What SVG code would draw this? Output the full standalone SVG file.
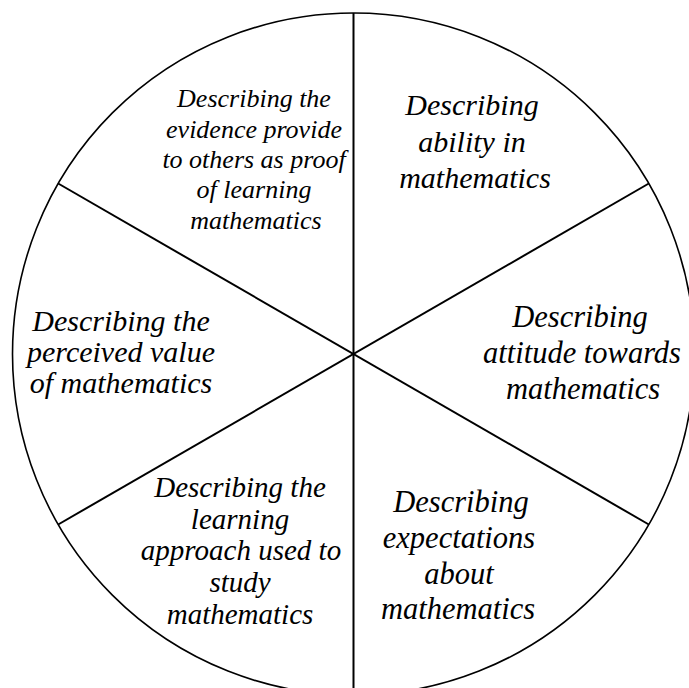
<svg xmlns="http://www.w3.org/2000/svg" width="689" height="688" viewBox="0 0 689 688">
  <style>
    .rim { fill: #fff; stroke: #000; stroke-width: 1.6; }
    .spoke { stroke: #000; stroke-width: 2; fill: none; }
    .lbl { font-family: "Liberation Serif", "Times New Roman", serif; font-style: italic; fill: #000; text-anchor: middle; }
  </style>
  <rect width="689" height="688" fill="#fff"/>

  <!-- outer wheel -->
  <circle class="rim" cx="353.5" cy="354" r="341"/>

  <!-- dividing spokes -->
  <g id="spokes">
    <line class="spoke" x1="353.5" y1="13" x2="353.5" y2="695"/>
    <line class="spoke" x1="58.2" y1="183.5" x2="648.8" y2="524.5"/>
    <line class="spoke" x1="58.2" y1="524.5" x2="648.8" y2="183.5"/>
  </g>

  <g id="evidence">
    <text class="lbl" font-size="26" x="254" y="107">Describing the</text>
    <text class="lbl" font-size="26" x="254" y="137.5">evidence provide</text>
    <text class="lbl" font-size="26" x="254" y="168">to others as proof</text>
    <text class="lbl" font-size="26" x="254" y="198">of learning</text>
    <text class="lbl" font-size="26" x="256" y="228.5">mathematics</text>
  </g>

  <g id="ability">
    <text class="lbl" font-size="30" x="472" y="115">Describing</text>
    <text class="lbl" font-size="30" x="472" y="151.5">ability in</text>
    <text class="lbl" font-size="30" x="475" y="188">mathematics</text>
  </g>

  <g id="attitude">
    <text class="lbl" font-size="30.5" x="580" y="327">Describing</text>
    <text class="lbl" font-size="30.5" x="582" y="363">attitude towards</text>
    <text class="lbl" font-size="30.5" x="583" y="398.5">mathematics</text>
  </g>

  <g id="expectations">
    <text class="lbl" font-size="30.5" x="461" y="511.5">Describing</text>
    <text class="lbl" font-size="30.5" x="459" y="548">expectations</text>
    <text class="lbl" font-size="30.5" x="459" y="583.5">about</text>
    <text class="lbl" font-size="30.5" x="458" y="618.5">mathematics</text>
  </g>

  <g id="approach">
    <text class="lbl" font-size="29" x="240" y="497">Describing the</text>
    <text class="lbl" font-size="29" x="240" y="528.5">learning</text>
    <text class="lbl" font-size="29" x="241" y="560">approach used to</text>
    <text class="lbl" font-size="29" x="240" y="591.5">study</text>
    <text class="lbl" font-size="29" x="240" y="624">mathematics</text>
  </g>

  <g id="value">
    <text class="lbl" font-size="30" x="121" y="331">Describing the</text>
    <text class="lbl" font-size="30" x="121" y="362">perceived value</text>
    <text class="lbl" font-size="30" x="121" y="393">of mathematics</text>
  </g>
</svg>
